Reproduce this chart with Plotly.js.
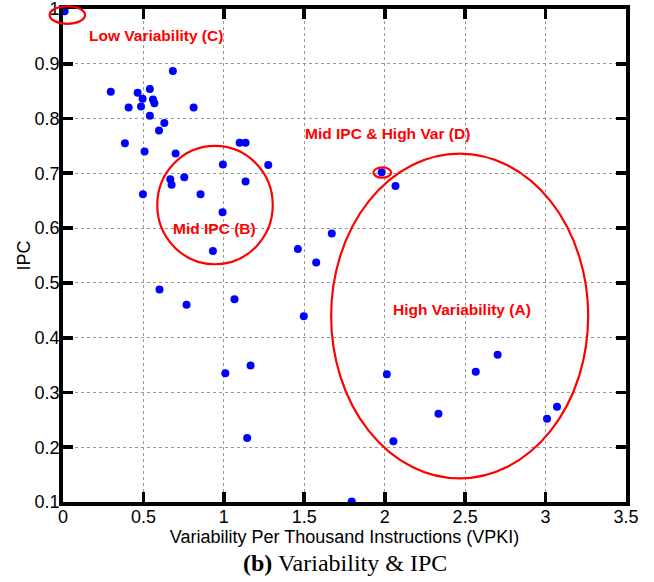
<!DOCTYPE html>
<html>
<head>
<meta charset="utf-8">
<script src="https://cdn.plot.ly/plotly-3.0.1.min.js"></script>
<style>html,body{margin:0;padding:0;background:#fff;}#chart{width:654px;height:582px;}</style>
</head>
<body>
<div id="chart"></div>
<script>
var vpki = [0.01, 0.297, 0.683, 0.464, 0.540, 0.495, 0.559, 0.568, 0.408, 0.485,
            0.812, 0.540, 0.630, 0.597, 0.385, 0.507, 0.700, 1.098, 1.135, 1.276,
            0.994, 0.667, 0.675, 0.754, 1.135, 0.497, 0.855, 0.992, 0.932, 1.460,
            1.574, 1.671, 1.981, 2.067, 0.600, 0.768, 1.066, 1.497, 1.009, 1.166,
            1.145, 2.013, 2.054, 2.334, 2.566, 2.702, 3.009, 3.071, 1.795];
var ipc  = [0.996, 0.849, 0.887, 0.847, 0.854, 0.836, 0.835, 0.828, 0.820, 0.822,
            0.820, 0.805, 0.792, 0.778, 0.755, 0.740, 0.736, 0.756, 0.756, 0.715,
            0.716, 0.689, 0.679, 0.693, 0.685, 0.662, 0.662, 0.629, 0.558, 0.562,
            0.537, 0.590, 0.702, 0.677, 0.488, 0.460, 0.470, 0.439, 0.335, 0.349,
            0.217, 0.333, 0.211, 0.261, 0.338, 0.369, 0.252, 0.274, 0.101];

var xTicks = [0, 0.5, 1, 1.5, 2, 2.5, 3, 3.5];
var yTicks = [0.1, 0.2, 0.3, 0.4, 0.5, 0.6, 0.7, 0.8, 0.9, 1];

// Region ellipses (x0, x1, y0, y1 in data units) and labels
var regionNames = ['Low Variability (C)', 'Mid IPC (B)', 'Mid IPC & High Var (D)', 'High Variability (A)'];
var regionEllipses = [
  [-0.083, 0.137, 0.973, 1.005],
  [0.586, 1.304, 0.534, 0.750],
  [1.930, 2.040, 0.692, 0.711],
  [1.667, 3.265, 0.143, 0.736]
];
var labelX = [0.147, 0.940, 2.019, 2.483];
var labelY = [0.952, 0.600, 0.772, 0.451];
var labelAnchor = ['left', 'center', 'center', 'center'];

var xr = [0, 3.5], yr = [0.1, 1.0];
function px(x){ return (x - xr[0]) / (xr[1] - xr[0]); }
function py(y){ return (y - yr[0]) / (yr[1] - yr[0]); }

var shapes = regionEllipses.map(function(e){
  return {type:'circle', xref:'paper', yref:'paper',
          x0:px(e[0]), x1:px(e[1]), y0:py(e[2]), y1:py(e[3]),
          line:{color:'#ff0000', width:2.2}, layer:'above'};
});

var annotations = regionNames.map(function(t, i){
  return {text:'<b>'+t+'</b>', x:labelX[i], y:labelY[i], xref:'x', yref:'y',
          xanchor:labelAnchor[i], yanchor:'middle', showarrow:false,
          font:{family:'Liberation Sans, Arial, sans-serif', size:15.5, color:'#ff0000'}};
});
annotations.push({text:'<b>(b)</b> Variability &amp; IPC', xref:'paper', yref:'paper',
  x:0.5, y:-0.094, xanchor:'center', yanchor:'top', showarrow:false,
  font:{family:'Liberation Serif, Times New Roman, serif', size:24, color:'#000'}});

var trace = {x:vpki, y:ipc, type:'scatter', mode:'markers', cliponaxis:false,
  marker:{color:'#0000ff', size:8, line:{width:0}}, hoverinfo:'x+y'};

var axisCommon = {
  showline:true, linecolor:'#000', linewidth:3.8, mirror:'ticks',
  ticks:'inside', ticklen:10, tickwidth:3.8, tickcolor:'#000',
  showgrid:true, gridcolor:'#999', gridwidth:1, griddash:'dot',
  ticklabeloverflow:'allow',
  zeroline:false, tickfont:{family:'Liberation Sans, Arial, sans-serif', size:18, color:'#000'}
};

var layout = {
  width:654, height:582,
  margin:{l:63, r:28, t:8.5, b:80.3},
  paper_bgcolor:'#fff', plot_bgcolor:'#fff',
  showlegend:false,
  xaxis:Object.assign({}, axisCommon, {range:xr, tickvals:xTicks, ticktext:xTicks.map(String),
    ticklabelstandoff:-4,
    title:{text:'Variability Per Thousand Instructions (VPKI)', standoff:0,
           font:{family:'Liberation Sans, Arial, sans-serif', size:18, color:'#000'}}}),
  yaxis:Object.assign({}, axisCommon, {range:yr, tickvals:yTicks, ticktext:yTicks.map(String),
    ticklabelstandoff:-4,
    title:{text:'IPC', standoff:0,
           font:{family:'Liberation Sans, Arial, sans-serif', size:18, color:'#000'}}}),
  shapes:shapes,
  annotations:annotations
};

Plotly.newPlot('chart', [trace], layout, {displayModeBar:false, staticPlot:true});
</script>
</body>
</html>
